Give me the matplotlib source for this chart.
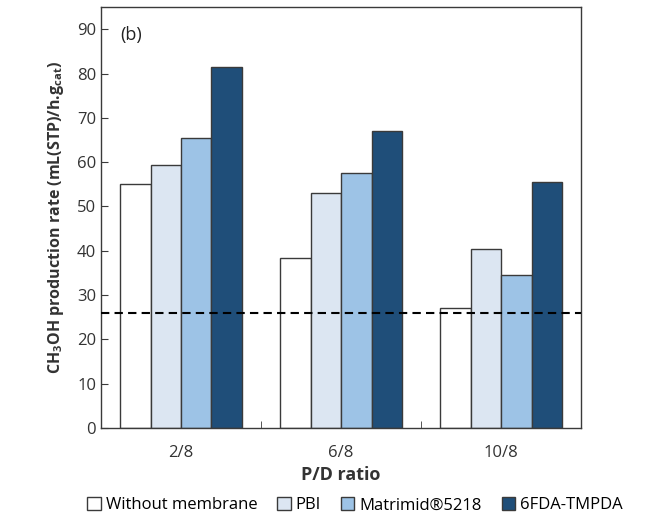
import numpy as np
import matplotlib
matplotlib.use("Agg")
import matplotlib.pyplot as plt
from matplotlib.patches import Patch

## data
categories = ["2/8", "6/8", "10/8"]
series_names = ["Without membrane", "PBI", "Matrimid\u00ae5218", "6FDA-TMPDA"]
without_membrane = [55.0, 38.3, 27.0]
pbi = [59.3, 53.0, 40.5]
matrimid = [65.5, 57.5, 34.5]
fda_tmpda = [81.5, 67.0, 55.5]
reference_level = 26.0

plt.rcParams['font.family'] = ['Open Sans', 'DejaVu Sans']
plt.rcParams['mathtext.fontset'] = 'custom'
plt.rcParams['mathtext.rm'] = 'Open Sans'
plt.rcParams['mathtext.bf'] = 'Open Sans:bold'

colors = ['#ffffff', '#dce6f2', '#9dc3e6', '#1f4e79']
edge = '#3a3a3a'

fig = plt.figure(figsize=(6.56, 5.18), dpi=100)
ax = fig.add_axes([0.154, 0.174, 0.732, 0.812])

x = np.arange(len(categories))
width = 0.19
all_series = [without_membrane, pbi, matrimid, fda_tmpda]
for i, vals in enumerate(all_series):
    ax.bar(x + (i - 1.5) * width, vals, width, color=colors[i],
           edgecolor=edge, linewidth=1.0, zorder=2)

ax.axhline(reference_level, color='black', linestyle=(0, (4, 2.5)),
           linewidth=1.5, zorder=3)

ax.set_xlim(-0.5, 2.5)
ax.set_ylim(0, 95)
ax.set_yticks(range(0, 100, 10))
ax.set_xticks(x)
ax.set_xticklabels(categories, fontsize=12, color='#333333')
ax.set_xticks([0.5, 1.5], minor=True)
ax.tick_params(axis='x', which='major', length=0, pad=12)
ax.tick_params(axis='x', which='minor', direction='in', length=5, color=edge)
ax.tick_params(axis='y', direction='in', length=5, labelsize=12,
               labelcolor='#333333', color=edge)
for s in ax.spines.values():
    s.set_color(edge)
    s.set_linewidth(1.0)

ax.set_xlabel('P/D ratio', fontsize=13, fontweight='bold', color='#333333',
              labelpad=4)
ax.set_ylabel(r'CH$_\mathbf{3}$OH production rate (mL(STP)/h.g$_\mathbf{cat}$)',
              fontsize=11.5, fontweight='bold', color='#333333', labelpad=8)
ax.text(0.04, 0.955, '(b)', transform=ax.transAxes, fontsize=13,
        color='#222222', va='top')

handles = [Patch(facecolor=colors[i], edgecolor=edge, linewidth=1.0)
           for i in range(len(series_names))]
fig.legend(handles, series_names, loc='lower center', ncol=4, frameon=False,
           bbox_to_anchor=(0.541, -0.02), fontsize=12, handlelength=0.8,
           handleheight=0.8, handletextpad=0.3, columnspacing=1.2)

fig.savefig('out.png', dpi=100)
